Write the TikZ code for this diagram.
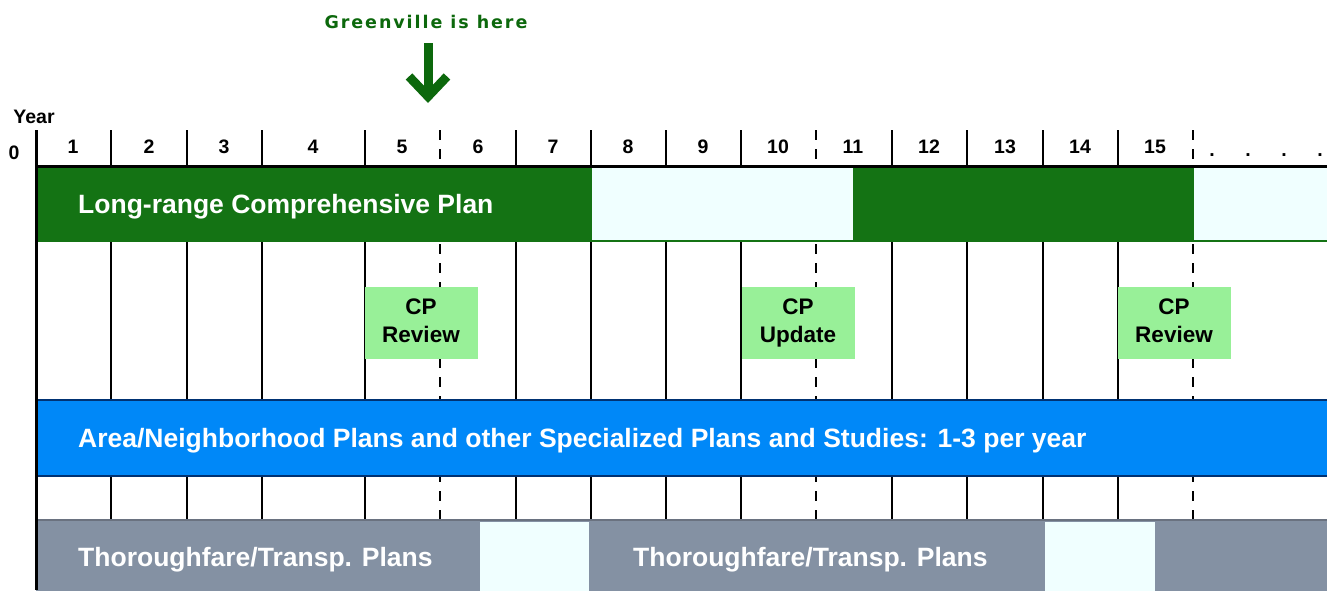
\documentclass[tikz,border=0pt]{standalone}
\usepackage{fontspec}
\setmainfont{Liberation Sans}
\newfontfamily\gvfont[LetterSpace=11]{DejaVu Sans}
\usetikzlibrary{arrows.meta}
\definecolor{lrpgreen}{RGB}{20,115,20}
\definecolor{gvgreen}{RGB}{12,104,12}
\definecolor{gapfill}{RGB}{240,255,255}
\definecolor{cpgreen}{RGB}{152,240,152}
\definecolor{areablue}{RGB}{0,136,248}
\definecolor{areaedge}{RGB}{0,50,115}
\definecolor{thgray}{RGB}{132,145,163}
\definecolor{thedge}{RGB}{106,114,128}
\begin{document}
\begin{tikzpicture}[x=1pt, y=-1pt,
    yearline/.style={line width=2pt},
    keyline/.style={line width=2.5pt, dash pattern=on 10pt off 9pt},
    yearnum/.style={inner sep=0pt, font=\fontsize{19.5}{22}\selectfont\bfseries},
    barlabel/.style={anchor=base west, inner sep=0pt, text=white, font=\fontsize{26.5}{30}\selectfont\bfseries},
    cpbox/.style={fill=cpgreen, minimum width=113pt, minimum height=72pt, inner sep=0pt, align=center, font=\fontsize{22.5}{28}\selectfont\bfseries},
    gvarrow/.style={gvgreen, line width=9pt, -{Straight Barb[length=20pt, width=38pt]}}]
  \useasboundingbox (0,0) rectangle (1327,590);

  % Greenville marker
  \node[text=gvgreen, inner sep=0pt, font=\gvfont\fontsize{17.5}{20}\selectfont\bfseries] (gv) at (426,22) {Greenville is here};
  \coordinate (gvtail) at (428,43);
  \coordinate (gvtip) at (428,103);
  \draw[gvarrow] (gvtail) -- (gvtip);

  % year header
  \node[yearnum] (year) at (34,117) {Year};
  \node[yearnum] (y0) at (14,153) {0};
  \foreach \n/\x in {1/73, 2/149, 3/224, 4/313, 5/402, 6/478, 7/553, 8/628, 9/703, 10/778, 11/853, 12/929, 13/1005, 14/1080, 15/1155}
    \node[yearnum] (y\n) at (\x,147) {\n};
  \foreach \x [count=\i] in {1212, 1248, 1284, 1320}
    \node[yearnum] (dot\i) at (\x,155) {.};

  % year columns
  \foreach \x in {111, 187, 262, 365, 516, 591, 666, 741, 892, 967, 1043, 1118}
    \draw[yearline] (\x,130) -- (\x,520);
  \foreach \x in {440, 816, 1193}
    \draw[keyline] (\x,130) -- (\x,520);

  % Long-range Comprehensive Plan
  \fill[lrpgreen] (36,166) rectangle (1327,242);
  \fill[gapfill] (592,167) rectangle (853,240);
  \fill[gapfill] (1194,167) rectangle (1327,240);
  \node[barlabel] (lrp) at (78,213) {Long-range Comprehensive Plan};

  % reviews and update
  \node[cpbox] (rev1) at (421,323) {CP\\Review\vphantom{p}};
  \node[cpbox] (upd) at (798,323) {CP\\Update};
  \node[cpbox] (rev2) at (1174,323) {CP\\Review\vphantom{p}};

  % area plans
  \draw[areaedge, fill=areablue, line width=2.5pt] (36,400) rectangle (1335,476);
  \node[barlabel] (area) at (78,447) {Area/Neighborhood Plans and other Specialized Plans and Studies: 1-3 per year};

  % thoroughfare plans
  \fill[thgray] (36,520) rectangle (1327,595);
  \draw[thedge, line width=2.5pt] (36,520) -- (1327,520);
  \fill[gapfill] (480,522) rectangle (589,595);
  \fill[gapfill] (1045,522) rectangle (1155,595);
  \node[barlabel] (th1) at (78,566) {Thoroughfare/Transp. Plans};
  \node[barlabel] (th2) at (633,566) {Thoroughfare/Transp. Plans};

  % axes
  \draw[line width=3pt] (36,166) -- (1327,166);
  \draw[line width=3pt] (36,130) -- (36,590);
\end{tikzpicture}
\end{document}
